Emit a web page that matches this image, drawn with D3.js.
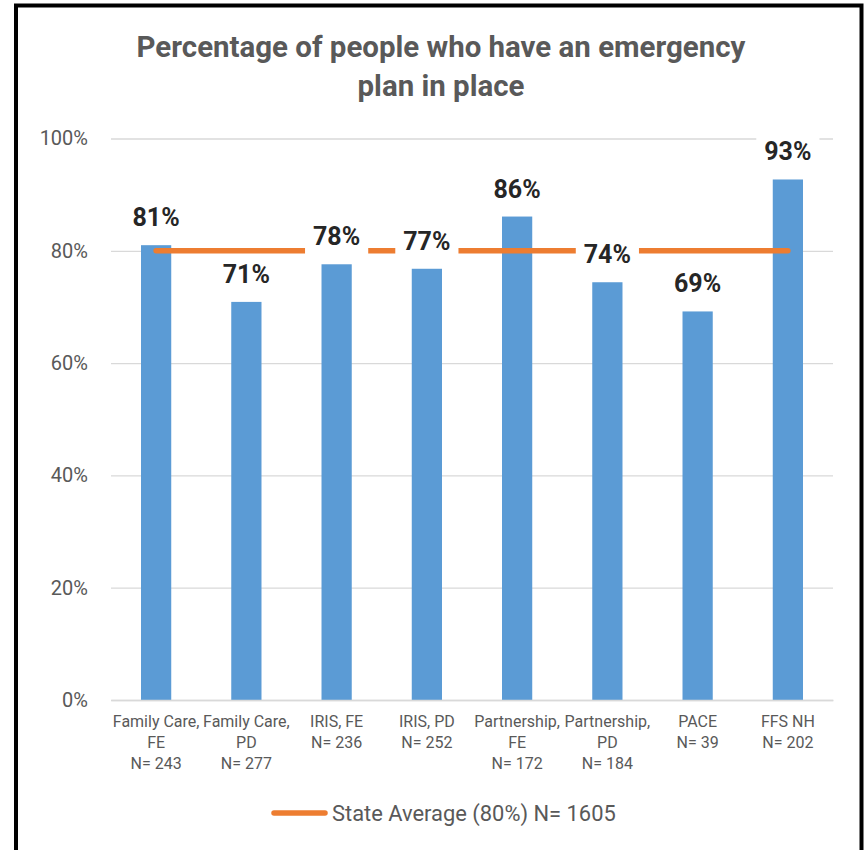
<!DOCTYPE html>
<html>
<head>
<meta charset="utf-8">
<script src="https://cdn.jsdelivr.net/npm/d3@7"></script>
<style>
  html, body { margin: 0; padding: 0; background: #fff; }
  svg { display: block; }
</style>
</head>
<body>
<script>
// ---- Data ----
const categories = ["Family Care, FE", "Family Care, PD", "IRIS, FE", "IRIS, PD",
                    "Partnership, FE", "Partnership, PD", "PACE", "FFS NH"];
const categoryLabelLines = [
  ["Family Care,", "FE", "N= 243"],
  ["Family Care,", "PD", "N= 277"],
  ["IRIS, FE", "N= 236"],
  ["IRIS, PD", "N= 252"],
  ["Partnership,", "FE", "N= 172"],
  ["Partnership,", "PD", "N= 184"],
  ["PACE", "N= 39"],
  ["FFS NH", "N= 202"]
];
const percentWithPlan = [81.0, 70.9, 77.6, 76.8, 86.1, 74.4, 69.2, 92.7];
const dataLabels = ["81%", "71%", "78%", "77%", "86%", "74%", "69%", "93%"];
const stateAverage = [80, 80, 80, 80, 80, 80, 80, 80];
const yTicks = [0, 20, 40, 60, 80, 100];
const titleLines = ["Percentage of people who have an emergency", "plan in place"];
const legendLabel = "State Average (80%) N= 1605";

// ---- Layout ----
const W = 865, H = 850;
const plot = { left: 111, right: 833, top: 138.5, bottom: 700 };
const barColor = "#5B9BD5", lineColor = "#ED7D31";
const textGrey = "#595959", gridColor = "#D9D9D9";
const FONT = "Roboto, 'Open Sans', sans-serif";

const svg = d3.select("body").append("svg").attr("width", W).attr("height", H);
svg.append("rect").attr("width", W).attr("height", H).attr("fill", "#fff");

// frame
svg.append("rect").attr("x", 16).attr("y", 5.5).attr("width", 845.5).attr("height", 900)
  .attr("fill", "none").attr("stroke", "#000").attr("stroke-width", 4);

const x = d3.scaleBand().domain(categories).range([plot.left, plot.right])
  .paddingInner(0.665).paddingOuter(0.3325);
const y = d3.scaleLinear().domain([0, 100]).range([plot.bottom, plot.top]);

// title
const title = svg.append("text").attr("text-anchor", "middle")
  .attr("font-family", FONT).attr("font-weight", "bold")
  .attr("fill", textGrey).attr("font-size", 28);
titleLines.forEach((t, i) => {
  title.append("tspan").attr("x", 441).attr("y", 57 + i * 38.5).text(t);
});
{
  const first = title.select("tspan").node();
  const w = first.getComputedTextLength();
  if (w > 0) title.attr("font-size", 28 * 609 / w);
}

// gridlines + y axis
const yAxis = d3.axisLeft(y).tickValues(yTicks).tickFormat(d => d + "%")
  .tickSize(-(plot.right - plot.left)).tickPadding(23);
const gy = svg.append("g").attr("transform", `translate(${plot.left},0)`).call(yAxis);
gy.select(".domain").remove();
gy.selectAll(".tick line").attr("stroke", gridColor).attr("stroke-width", 1.3);
gy.selectAll(".tick text").attr("fill", textGrey)
  .attr("font-family", FONT).attr("font-size", 20);

// bars
svg.append("g").selectAll("rect").data(categories).join("rect")
  .attr("x", d => x(d))
  .attr("y", (d, i) => y(percentWithPlan[i]))
  .attr("width", x.bandwidth())
  .attr("height", (d, i) => y(0) - y(percentWithPlan[i]))
  .attr("fill", barColor);

// category axis line
const xAxis = d3.axisBottom(x).tickSize(0).tickFormat("");
const gx = svg.append("g").attr("transform", `translate(0,${plot.bottom})`).call(xAxis);
gx.select(".domain").attr("stroke", gridColor).attr("stroke-width", 1.5);

// category labels
const catG = svg.append("g").attr("font-family", FONT)
  .attr("font-size", 16).attr("fill", textGrey).attr("text-anchor", "middle");
categories.forEach((c, i) => {
  const t = catG.append("text");
  categoryLabelLines[i].forEach((ln, j) => {
    t.append("tspan").attr("x", x(c) + x.bandwidth() / 2).attr("y", 727 + j * 21).text(ln);
  });
});

// state average line
const line = d3.line()
  .x((d, i) => x(categories[i]) + x.bandwidth() / 2)
  .y(d => y(d));
svg.append("path").datum(stateAverage).attr("d", line)
  .attr("fill", "none").attr("stroke", lineColor).attr("stroke-width", 5.5)
  .attr("stroke-linecap", "round");

// data labels with white boxes
const lblG = svg.append("g");
categories.forEach((c, i) => {
  const cx = x(c) + x.bandwidth() / 2;
  const base = y(percentWithPlan[i]) - 19;
  const g = lblG.append("g");
  const box = g.append("rect").attr("fill", "#fff");
  const t = g.append("text").attr("x", cx).attr("y", base)
    .attr("text-anchor", "middle").attr("font-family", FONT)
    .attr("font-weight", "bold").attr("font-size", 25).attr("fill", "#262626")
    .text(dataLabels[i]);
  const w = t.node().getComputedTextLength();
  box.attr("x", cx - w / 2 - 8).attr("y", base - 26).attr("width", w + 16).attr("height", 35);
});

// legend
svg.append("line").attr("x1", 274).attr("x2", 325).attr("y1", 813).attr("y2", 813)
  .attr("stroke", lineColor).attr("stroke-width", 5.5).attr("stroke-linecap", "round");
const leg = svg.append("text").attr("x", 332).attr("y", 821)
  .attr("font-family", FONT).attr("font-size", 19)
  .attr("fill", textGrey).text(legendLabel);
{
  const w = leg.node().getComputedTextLength();
  if (w > 0) leg.attr("font-size", 19 * 284 / w);
}
</script>
</body>
</html>
